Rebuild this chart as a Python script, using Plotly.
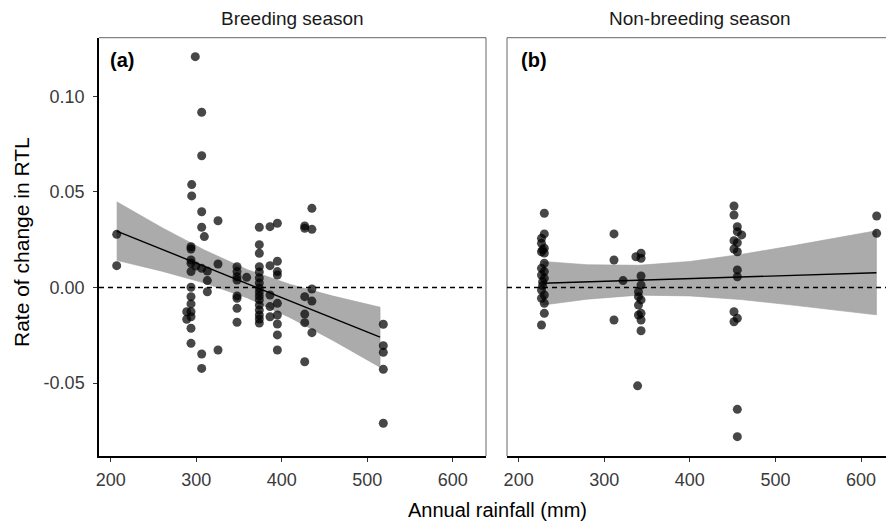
import plotly.graph_objects as go

# breeding season points (annual rainfall mm, rate of change in RTL)
breed_rain = [207, 207,
              298.9, 306.4, 306.4, 294.7, 294.7, 306.4, 325.5, 306.4,
              373.8, 386.3, 394.9,
              309.5, 293.9, 293.9, 293.9, 293.9, 293.9, 299.5, 306.4, 313, 313, 313, 325.5,
              347.7, 347.7, 347.7, 347.7, 359,
              373.8, 373.8, 373.8, 373.8, 373.8, 373.8, 373.8, 373.8, 373.8, 373.8, 373.8, 373.8, 373.8, 373.8, 373.8,
              386.3, 394.9, 394.9, 394.9, 386.3, 386.3, 386.3, 394.9, 394.9, 394.9, 394.9, 394.9,
              293.9, 293.9, 293.9, 293.9, 293.9, 293.9, 293.9, 288.9, 288.9,
              306.4, 306.4, 325.5,
              347.7, 347.7, 347.7, 347.7,
              435.3, 426.9, 426.9, 435.3, 435.3, 426.9, 435.3, 426.9, 426.9, 435.3, 426.9,
              518.8, 518.8, 518.8, 518.8, 518.8]
breed_rtl = [0.0278, 0.0114,
             0.1207, 0.0916, 0.0689, 0.0538, 0.0479, 0.0396, 0.0349, 0.0315,
             0.0315, 0.0318, 0.0336,
             0.0266, 0.0213, 0.0201, 0.0144, 0.0127, 0.0083, 0.0112, 0.0100, 0.0086, 0.0036, -0.0022, 0.0123,
             0.0109, 0.0083, 0.0056, 0.0039, 0.0053,
             0.0224, 0.0179, 0.0109, 0.0081, 0.0050, 0.0024, -0.0003, -0.0024, -0.0044, -0.0065, -0.0092, -0.0118, -0.0144, -0.0165, -0.0186,
             0.0114, 0.0137, 0.0083, 0.0065, -0.0039, -0.0100, -0.0153, -0.0083, -0.0144, -0.0191, -0.0248, -0.0327,
             0.0001, -0.0048, -0.0086, -0.0127, -0.0153, -0.0213, -0.0292, -0.0127, -0.0166,
             -0.0348, -0.0423, -0.0327,
             -0.0044, -0.0056, -0.0109, -0.0182,
             0.0414, 0.0310, 0.0322, 0.0304, -0.0008, -0.0048, -0.0071, -0.0139, -0.0184, -0.0236, -0.0388,
             -0.0192, -0.0304, -0.0339, -0.0428, -0.0710]

# non-breeding season points
nonbreed_rain = [230, 230, 226.7, 226.7, 230, 226.7, 228, 230, 230, 226.7, 230, 226.7, 230, 228, 228,
                 226.7, 230, 226.7, 230, 230, 226.7,
                 311.4, 311.4, 311.4, 322,
                 343, 337, 343, 343, 343, 340, 340, 343, 340, 343, 340, 343, 343, 339,
                 451.6, 451.6, 455.5, 455.5, 460.6, 451.6, 455.5, 451.6, 455.5, 455.5, 455.5,
                 451.6, 455.5, 451.6, 455.5, 455.5,
                 618.3, 618.3]
nonbreed_rtl = [0.0388, 0.0280, 0.0257, 0.0231, 0.0205, 0.0187, 0.0197, 0.0180, 0.0127, 0.0100, 0.0083, 0.0065, 0.0048, 0.0030, 0.0010,
                -0.0013, -0.0039, -0.0056, -0.0083, -0.0135, -0.0196,
                0.0280, 0.0144, -0.0170, 0.0036,
                0.0179, 0.0161, 0.0153, 0.0060, 0.0013, -0.0022, -0.0048, -0.0065, -0.0092, -0.0135, -0.0144, -0.0170, -0.0226, -0.0514,
                0.0426, 0.0379, 0.0318, 0.0292, 0.0275, 0.0245, 0.0234, 0.0201, 0.0187, 0.0092, 0.0056,
                -0.0127, -0.0161, -0.0179, -0.0637, -0.0780,
                0.0374, 0.0283]

# fitted lines + confidence bands
breed_fit_x = [207, 260, 310, 360, 410, 460, 515]
breed_fit = [0.0295, 0.0199, 0.0109, 0.0019, -0.0071, -0.0161, -0.0260]
breed_hi = [0.0448, 0.0313, 0.0195, 0.0093, 0.0016, -0.0045, -0.0103]
breed_lo = [0.0142, 0.0085, 0.0023, -0.0055, -0.0158, -0.0277, -0.0417]

nonbreed_fit_x = [228, 280, 340, 400, 460, 520, 618]
nonbreed_fit = [0.0022, 0.0029, 0.0038, 0.0046, 0.0055, 0.0063, 0.0077]
nonbreed_hi = [0.0136, 0.0119, 0.0116, 0.0136, 0.0173, 0.0218, 0.0297]
nonbreed_lo = [-0.0092, -0.0061, -0.0040, -0.0044, -0.0063, -0.0092, -0.0143]

x_ticks = [200, 300, 400, 500, 600]
y_ticks = [-0.05, 0.00, 0.05, 0.10]
y_tick_text = ["-0.05", "0.00", "0.05", "0.10"]
panel_titles = ["Breeding season", "Non-breeding season"]
panel_tags = ["(a)", "(b)"]

W, H = 886, 524
FONT = "Liberation Sans, Arial, sans-serif"

fig = go.Figure()

panels = [
    (breed_rain, breed_rtl, breed_fit_x, breed_fit, breed_hi, breed_lo, "x", "y"),
    (nonbreed_rain, nonbreed_rtl, nonbreed_fit_x, nonbreed_fit, nonbreed_hi, nonbreed_lo, "x2", "y2"),
]
for rain, rtl, fx, fy, hi, lo, xa, ya in panels:
    # confidence band
    fig.add_trace(go.Scatter(
        x=fx + fx[::-1], y=hi + lo[::-1], xaxis=xa, yaxis=ya,
        fill="toself", fillcolor="#ababab", line=dict(width=0.6, color="#a0a0a0"),
        mode="lines", hoverinfo="skip"))
    # fitted line
    fig.add_trace(go.Scatter(
        x=[fx[0], fx[-1]], y=[fy[0], fy[-1]], xaxis=xa, yaxis=ya,
        mode="lines", line=dict(color="black", width=1.4)))
    # points
    fig.add_trace(go.Scatter(
        x=rain, y=rtl, xaxis=xa, yaxis=ya, mode="markers",
        marker=dict(size=9, color="rgba(0,0,0,0.72)", line=dict(width=0))))

px = lambda v: v / W
py = lambda v: 1 - v / H

ydom = [py(456), py(37.7)]
tickfont = dict(family=FONT, size=18, color="#3a3a3a")
xax = dict(tickvals=x_ticks, showline=True, linecolor="black", linewidth=1.5,
           ticks="outside", ticklen=4, tickcolor="#333", tickfont=tickfont,
           ticklabelstandoff=3, showgrid=False, zeroline=False, automargin=False)

fig.update_layout(
    width=W, height=H, showlegend=False,
    paper_bgcolor="white", plot_bgcolor="white",
    margin=dict(l=0, r=0, t=0, b=0),
    xaxis=dict(domain=[px(99), px(486)], range=[186.3, 638.9], anchor="y", **xax),
    xaxis2=dict(domain=[px(507), 1.0], range=[186.4, 629.2], anchor="y2", **xax),
    yaxis=dict(domain=ydom, range=[-0.0881, 0.1306], tickvals=y_ticks, ticktext=y_tick_text,
               showline=True, linecolor="black", linewidth=1.5, ticks="outside",
               ticklen=4, tickcolor="#333", tickfont=tickfont, ticklabelstandoff=5,
               showgrid=False, zeroline=False, anchor="x", automargin=False),
    yaxis2=dict(domain=ydom, range=[-0.0881, 0.1306], showticklabels=False,
                showgrid=False, zeroline=False, anchor="x2", automargin=False),
)

# panel borders (grey) and zero reference lines
border = dict(color="#666666", width=1)
for xd in ["x domain", "x2 domain"]:
    yd = "y domain" if xd == "x domain" else "y2 domain"
    fig.add_shape(type="line", xref=xd, yref=yd, x0=0, x1=1, y0=1, y1=1, line=border)
fig.add_shape(type="line", xref="x domain", yref="y domain", x0=1, x1=1, y0=0, y1=1, line=border)
fig.add_shape(type="line", xref="x2 domain", yref="y2 domain", x0=0, x1=0, y0=0, y1=1, line=border)
fig.add_shape(type="line", xref="x domain", yref="y", x0=0, x1=1, y0=0, y1=0,
              line=dict(color="black", width=1.3, dash="5px,4px"))
fig.add_shape(type="line", xref="x2 domain", yref="y2", x0=0, x1=1, y0=0, y1=0,
              line=dict(color="black", width=1.3, dash="5px,4px"))

# strip titles and panel tags
for title, cx in zip(panel_titles, [292.5, 700]):
    fig.add_annotation(text=title, x=px(cx), y=py(19), xref="paper", yref="paper",
                       showarrow=False, xanchor="center", yanchor="middle",
                       font=dict(family=FONT, size=19, color="#1a1a1a"))
for tag, lx in zip(panel_tags, [108, 519]):
    fig.add_annotation(text="<b>" + tag + "</b>", x=px(lx), y=py(60), xref="paper", yref="paper",
                       showarrow=False, xanchor="left", yanchor="middle",
                       font=dict(family=FONT, size=20, color="black"))

# axis titles
fig.add_annotation(text="Annual rainfall (mm)", x=px(497), y=py(510), xref="paper", yref="paper",
                   showarrow=False, xanchor="center", yanchor="middle",
                   font=dict(family=FONT, size=20, color="black"))
fig.add_annotation(text="Rate of change in RTL", x=px(21), y=py(242), xref="paper", yref="paper",
                   showarrow=False, xanchor="center", yanchor="middle", textangle=-90,
                   font=dict(family=FONT, size=21, color="black"))

# page body has a default 8px margin; drop it so the figure sits at the window origin
fig.write_html("out.html", config={"displayModeBar": False},
               post_script="document.body.style.margin='0';")
